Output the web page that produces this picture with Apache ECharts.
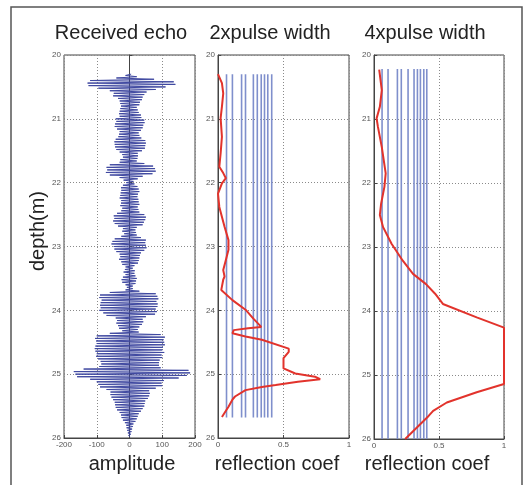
<!DOCTYPE html>
<html>
<head>
<meta charset="utf-8">
<script src="https://cdn.jsdelivr.net/npm/echarts@6/dist/echarts.min.js"></script>
<style>
  html, body { margin: 0; padding: 0; background: #fff; }
  #chart { width: 532px; height: 485px; }
</style>
</head>
<body>
<div id="chart"></div>
<script>
// panel titles and axis names
const panelTitles = ["Received echo", "2xpulse width", "4xpulse width"];
const xAxisNames = ["amplitude", "reflection coef", "reflection coef"];
const depthTicks = [20, 21, 22, 23, 24, 25, 26];

// received echo: one sample every 0.02 m from 20.30 m
const echoDepthStart = 20.30;
const echoDepthStep = 0.02;
const echoAmplitude = [
  5, -12, 22, -40, 75, -120, 135, -128, 140, -125,
  110, -95, 80, -60, 52, -48, 45, -50, 40, -35,
  38, -30, 32, -28, 30, -26, 22, -28, 25, -30,
  28, -32, 35, -30, 36, -42, 45, -40, 46, -44,
  42, -45, 40, -38, 35, -30, 28, -32, 30, -34,
  36, -42, 48, -46, 50, -45, 48, -44, 47, -40,
  38, -30, 25, -22, 26, -20, 24, -28, 22, -30,
  45, -60, 72, -70, 78, -68, 80, -72, 70, -60,
  40, -30, 25, -18, 12, -10, 15, -20, 24, -26,
  28, -25, 30, -27, 26, -28, 24, -30, 27, -25,
  28, -26, 30, -28, 25, -22, 27, -25, 30, -38,
  45, -48, 50, -46, 48, -50, 44, -45, 40, -35,
  22, -20, 18, -22, 20, -16, 22, -25, 35, -45,
  50, -52, 48, -55, 50, -48, 52, -46, 45, -40,
  35, -30, 32, -28, 30, -32, 28, -25, 26, -22,
  15, -12, 10, -14, 16, -18, 15, -12, 18, -20,
  22, -24, 20, -22, 18, -12, 10, -8, 10, -12,
  30, -60, 80, -90, 85, -92, 88, -85, 82, -88,
  86, -90, 85, -88, 80, -92, 84, -80, 78, -70,
  50, -42, 40, -38, 42, -40, 38, -35, 30, -32,
  25, -22, 28, -60, 95, -100, 108, -105, 104, -102,
  106, -100, 108, -104, 102, -106, 100, -104, 106, -100,
  98, -102, 100, -96, 92, -88, 90, -86, 90, -92,
  95, -140, 180, -170, 185, -165, 175, -160, 150, -120,
  105, -100, 98, -95, 100, -90, 80, -70, 60, -58,
  62, -58, 60, -55, 56, -50, 48, -45, 46, -44,
  45, -42, 40, -38, 35, -30, 28, -26, 25, -24,
  22, -20, 18, -14, 12, -10, 10, -9, 8, -7,
  6, -5, 4, -3, 2
];

// layer positions (reflection coef of the blue sticks)
const sticks2x = [0.065, 0.11, 0.18, 0.21, 0.27, 0.30, 0.33, 0.355, 0.38, 0.41];
const sticks4x = [0.062, 0.108, 0.18, 0.21, 0.262, 0.308, 0.334, 0.357, 0.383, 0.406];
const sticks2xDepth = [20.30, 25.68];
const sticks4xDepth = [20.22, 26.0];

// red curves: [reflection coef, depth]
const curve2x = [
  [0.0, 20.30], [0.03, 20.44], [0.04, 20.60], [0.03, 20.81], [0.02, 20.99],
  [0.03, 21.28], [0.02, 21.54], [0.01, 21.75], [0.04, 21.85], [0.06, 21.93],
  [0.03, 22.01], [0.0, 22.17], [0.01, 22.38], [0.05, 22.69], [0.08, 22.90],
  [0.08, 23.05], [0.06, 23.21], [0.04, 23.37], [0.05, 23.47], [0.04, 23.52],
  [0.025, 23.68], [0.11, 23.84], [0.21, 23.99], [0.27, 24.13], [0.33, 24.26],
  [0.23, 24.28], [0.12, 24.31], [0.11, 24.36], [0.21, 24.41], [0.335, 24.46],
  [0.54, 24.60], [0.54, 24.65], [0.50, 24.75], [0.50, 24.91], [0.59, 24.99],
  [0.74, 25.04], [0.78, 25.08], [0.61, 25.12], [0.44, 25.17], [0.335, 25.20],
  [0.21, 25.25], [0.13, 25.35], [0.11, 25.40], [0.08, 25.51], [0.03, 25.67]
];
const curve4x = [
  [0.04, 20.23], [0.06, 20.55], [0.045, 20.81], [0.02, 20.99], [0.03, 21.12],
  [0.06, 21.44], [0.09, 21.85], [0.08, 22.06], [0.055, 22.32], [0.045, 22.50],
  [0.07, 22.69], [0.135, 22.95], [0.22, 23.21], [0.30, 23.42], [0.40, 23.58],
  [0.47, 23.73], [0.53, 23.89], [0.79, 24.10], [1.0, 24.26], [1.0, 25.14],
  [0.79, 25.27], [0.56, 25.43], [0.455, 25.56], [0.42, 25.64], [0.33, 25.82],
  [0.24, 26.0]
];

const echoData = echoAmplitude.map((a, i) => [a, +(echoDepthStart + i * echoDepthStep).toFixed(2)]);

const grids = [
  { left: 64, top: 55, width: 131, height: 383 },
  { left: 218, top: 55, width: 131, height: 383 },
  { left: 374, top: 55, width: 130, height: 384 },
];
const xRanges = [
  { min: -200, max: 200, interval: 100 },
  { min: 0, max: 1, interval: 0.5 },
  { min: 0, max: 1, interval: 0.5 },
];

const chart = echarts.init(document.getElementById("chart"), null, { renderer: "canvas" });

const dotted = { show: true, lineStyle: { color: "#8a8a8a", type: [1, 2], width: 1 } };
const tickLabel = { color: "#555", fontSize: 8, fontFamily: "Liberation Sans" };

function stickSeries(xs, depth, axisIndex) {
  return xs.map((x) => ({
    type: "line",
    xAxisIndex: axisIndex,
    yAxisIndex: axisIndex,
    showSymbol: false,
    silent: true,
    lineStyle: { color: "#7f8fcc", width: 1.6 },
    data: [[x, depth[0]], [x, depth[1]]],
  }));
}

const option = {
  animation: false,
  backgroundColor: "#fff",
  grid: grids.map((g) => ({ ...g, show: true, borderColor: "#444", borderWidth: 1, backgroundColor: "#fff" })),
  xAxis: grids.map((g, i) => ({
    type: "value",
    gridIndex: i,
    min: xRanges[i].min,
    max: xRanges[i].max,
    interval: xRanges[i].interval,
    axisLine: { show: true, onZero: false, lineStyle: { color: "#444" } },
    axisTick: { show: true, inside: true, length: 3, lineStyle: { color: "#444" } },
    axisLabel: { ...tickLabel, margin: 3 },
    splitLine: dotted,
  })),
  yAxis: grids.map((g, i) => ({
    type: "value",
    gridIndex: i,
    inverse: true,
    min: depthTicks[0],
    max: depthTicks[depthTicks.length - 1],
    interval: 1,
    axisLine: { show: true, lineStyle: { color: "#444" } },
    axisTick: { show: true, inside: true, length: 3, lineStyle: { color: "#444" } },
    axisLabel: { ...tickLabel, margin: 3 },
    splitLine: dotted,
  })),
  graphic: [
    { type: "rect", shape: { x: 11, y: 7, width: 511, height: 490 }, style: { fill: "none", stroke: "#555", lineWidth: 1.5 }, silent: true },
    ...panelTitles.map((t, i) => ({
      type: "text",
      x: [121, 270, 425][i],
      y: 33,
      style: { text: t, fill: "#222", font: "20px 'Liberation Sans'", align: "center", verticalAlign: "middle" },
    })),
    ...xAxisNames.map((t, i) => ({
      type: "text",
      x: [132, 277, 427][i],
      y: 464,
      style: { text: t, fill: "#222", font: "20px 'Liberation Sans'", align: "center", verticalAlign: "middle" },
    })),
    {
      type: "text",
      x: 38,
      y: 231,
      rotation: Math.PI / 2,
      style: { text: "depth(m)", fill: "#222", font: "20px 'Liberation Sans'", align: "center", verticalAlign: "middle" },
    },
  ],
  series: [
    {
      type: "line",
      xAxisIndex: 0,
      yAxisIndex: 0,
      showSymbol: false,
      lineStyle: { color: "#3f48a0", width: 1 },
      data: echoData,
    },
    ...stickSeries(sticks2x, sticks2xDepth, 1),
    ...stickSeries(sticks4x, sticks4xDepth, 2),
    {
      type: "line",
      xAxisIndex: 1,
      yAxisIndex: 1,
      showSymbol: false,
      lineStyle: { color: "#e2332c", width: 2 },
      data: curve2x,
    },
    {
      type: "line",
      xAxisIndex: 2,
      yAxisIndex: 2,
      showSymbol: false,
      lineStyle: { color: "#e2332c", width: 2 },
      data: curve4x,
    },
  ],
};

chart.setOption(option);
</script>
</body>
</html>
